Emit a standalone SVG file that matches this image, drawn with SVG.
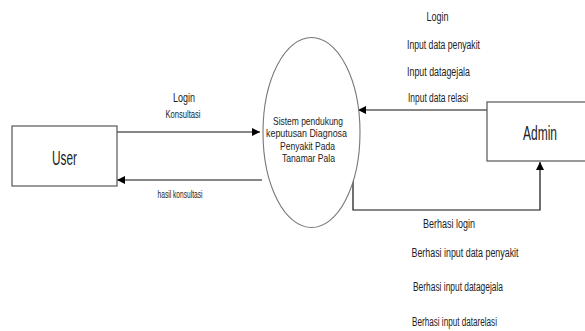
<svg xmlns="http://www.w3.org/2000/svg" width="585" height="331" viewBox="0 0 585 331">
<style>
text{font-family:"Liberation Sans",Arial,sans-serif;fill:#222;text-anchor:middle}
.s{font-size:11px}
.m{font-size:12px}
.e{font-size:10.4px}
.l{font-size:20px}
.box{fill:#fff;stroke:#555;stroke-width:1.2}
.c{fill:none;stroke:#111;stroke-width:1.2}
</style>
<defs>
<marker id="ah" viewBox="0 0 10 10" refX="10" refY="5" markerWidth="8" markerHeight="8" markerUnits="userSpaceOnUse" orient="auto">
<path d="M0,0L10,5L0,10z" fill="#000"/>
</marker>
</defs>
<rect width="585" height="331" fill="#fff"/>
<g id="connectors">
<line class="c" x1="117" y1="132" x2="260" y2="132" marker-end="url(#ah)"/>
<line class="c" x1="262" y1="180" x2="117" y2="180" marker-end="url(#ah)"/>
<line class="c" x1="488" y1="110" x2="358" y2="110" marker-end="url(#ah)"/>
<polyline class="c" points="353,178 353,210 540,210 540,162" marker-end="url(#ah)"/>
</g>
<g id="user">
<rect class="box" x="12" y="126" width="105" height="60"/>
<text class="l" x="64.5" y="165" textLength="25" lengthAdjust="spacingAndGlyphs">User</text>
</g>
<g id="sistem">
<ellipse cx="311.5" cy="132.5" rx="48.5" ry="95" fill="#fff" stroke="#777" stroke-width="1.1"/>
<text class="e" x="308" y="125" textLength="70" lengthAdjust="spacingAndGlyphs">Sistem pendukung</text>
<text class="e" x="306.5" y="137" textLength="81" lengthAdjust="spacingAndGlyphs">keputusan Diagnosa</text>
<text class="e" x="307.5" y="150" textLength="55" lengthAdjust="spacingAndGlyphs">Penyakit Pada</text>
<text class="e" x="308.5" y="162" textLength="53" lengthAdjust="spacingAndGlyphs">Tanamar Pala</text>
</g>
<g id="admin">
<rect class="box" x="487" y="102" width="100" height="59"/>
<text class="l" x="540" y="140" textLength="34" lengthAdjust="spacingAndGlyphs">Admin</text>
</g>
<g id="labels">
<text class="m" x="184" y="102" textLength="22" lengthAdjust="spacingAndGlyphs">Login</text>
<text class="s" x="183" y="118" textLength="35" lengthAdjust="spacingAndGlyphs">Konsultasi</text>
<text class="s" x="180" y="198" textLength="45" lengthAdjust="spacingAndGlyphs">hasil konsultasi</text>
<text class="m" x="437.5" y="21" textLength="22" lengthAdjust="spacingAndGlyphs">Login</text>
<text class="m" x="443.5" y="49" textLength="73" lengthAdjust="spacingAndGlyphs">Input data penyakit</text>
<text class="m" x="438.5" y="76" textLength="63" lengthAdjust="spacingAndGlyphs">Input datagejala</text>
<text class="m" x="438" y="102" textLength="60" lengthAdjust="spacingAndGlyphs">Input data relasi</text>
<text class="m" x="449" y="228" textLength="52" lengthAdjust="spacingAndGlyphs">Berhasi login</text>
<text class="m" x="465" y="257" textLength="107" lengthAdjust="spacingAndGlyphs">Berhasi input data penyakit</text>
<text class="m" x="458" y="291" textLength="90" lengthAdjust="spacingAndGlyphs">Berhasi input datagejala</text>
<text class="m" x="454.5" y="326" textLength="85" lengthAdjust="spacingAndGlyphs">Berhasi input datarelasi</text>
</g>
</svg>
